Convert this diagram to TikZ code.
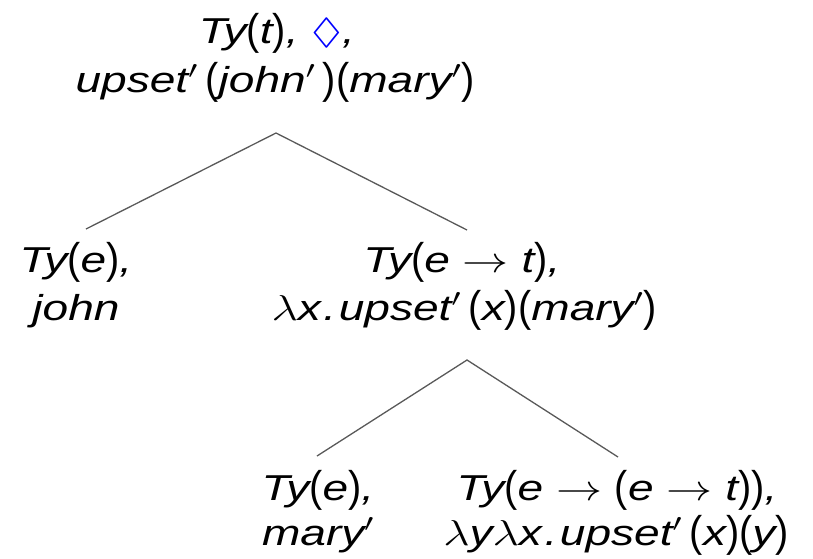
\RequirePackage{fix-cm}
\documentclass[tikz,border=0pt]{standalone}
\usepackage{graphicx}
\usepackage{amssymb}
\usepackage{fontspec}
\setmainfont{Liberation Sans}
\newcommand{\lp}{\raisebox{-1.8pt}{\scalebox{0.72}[1]{\fontsize{43}{43}\selectfont\upshape(}}}
\newcommand{\rp}{\raisebox{-1.8pt}{\scalebox{0.72}[1]{\fontsize{43}{43}\selectfont\upshape)}}}
\newcommand{\pr}{\ensuremath{'}}
\newcommand{\arr}{\ensuremath{\;\rightarrow\;}}
\newcommand{\lam}{\ensuremath{\lambda}}
\newcommand{\dt}{\kern2pt.\kern2pt}
\newcommand{\wide}[1]{\scalebox{1.28}[1]{#1}}
\begin{document}
\begin{tikzpicture}[x=1pt,y=-1pt,
  lbl/.style={anchor=base, inner sep=0pt, font=\fontsize{36}{40}\selectfont\itshape},
  edge/.style={draw=black!65, line width=1.3pt}]
\useasboundingbox (0,0) rectangle (813,558);
% labels
\node[lbl] (r1) at (277,43) {\wide{Ty\lp t\rp, \textcolor{blue}{$\Diamond$},}};
\node[lbl] (r2) at (275,92) {\wide{upset\pr\,\lp john\pr\,\rp\lp mary\pr\rp}};
\node[lbl] (l1) at (76,272) {\wide{Ty\lp e\rp,}};
\node[lbl] (l2) at (76,320) {\wide{john}};
\node[lbl] (m1) at (462,272) {\wide{Ty\lp e\arr t\rp,}};
\node[lbl] (m2) at (464,320) {\wide{\lam x\dt upset\pr\,\lp x\rp\lp mary\pr\rp}};
\node[lbl] (bl1) at (318,500) {\wide{Ty\lp e\rp,}};
\node[lbl] (bl2) at (318,545) {\wide{mary\pr}};
\node[lbl] (br1) at (617,500) {\wide{Ty\lp e\arr\lp e\arr t\rp\rp,}};
\node[lbl] (br2) at (616,545) {\wide{\lam y\lam x\dt upset\pr\,\lp x\rp\lp y\rp}};
% branch points
\coordinate (a0) at (276,133);
\coordinate (a0l) at (86,229);
\coordinate (a0r) at (467,230);
\coordinate (a1) at (467,360);
\coordinate (a1l) at (317,456);
\coordinate (a1r) at (618,457);
\draw[edge] (a0l) -- (a0) -- (a0r);
\draw[edge] (a1l) -- (a1) -- (a1r);
\end{tikzpicture}
\end{document}
